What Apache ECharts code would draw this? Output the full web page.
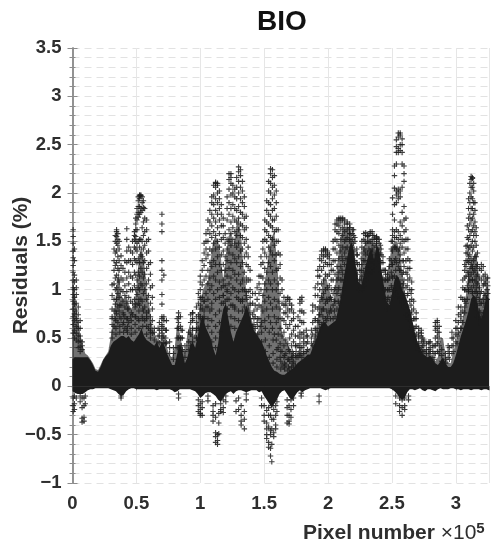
<!DOCTYPE html>
<html><head><meta charset="utf-8">
<style>html,body{margin:0;padding:0;background:#fff}#c{width:503px;height:550px}</style>
<script src="https://cdn.jsdelivr.net/npm/echarts@6/dist/echarts.min.js"></script>
</head><body><div id="c"></div>
<script>
const bandX=[0,.02,.04,.06,.08,.1,.12,.14,.16,.18,.2,.22,.24,.26,.28,.3,.32,.34,.36,.38,.4,.42,.44,.46,.48,.5,.52,.54,.56,.58,.6,.62,.64,.66,.68,.7,.72,.74,.76,.78,.8,.82,.84,.86,.88,.9,.92,.94,.96,.98,1,1.02,1.04,1.06,1.08,1.1,1.12,1.14,1.16,1.18,1.2,1.22,1.24,1.26,1.28,1.3,1.32,1.34,1.36,1.38,1.4,1.42,1.44,1.46,1.48,1.5,1.52,1.54,1.56,1.58,1.6,1.62,1.64,1.66,1.68,1.7,1.72,1.74,1.76,1.78,1.8,1.82,1.84,1.86,1.88,1.9,1.92,1.94,1.96,1.98,2,2.02,2.04,2.06,2.08,2.1,2.12,2.14,2.16,2.18,2.2,2.22,2.24,2.26,2.28,2.3,2.32,2.34,2.36,2.38,2.4,2.42,2.44,2.46,2.48,2.5,2.52,2.54,2.56,2.58,2.6,2.62,2.64,2.66,2.68,2.7,2.72,2.74,2.76,2.78,2.8,2.82,2.84,2.86,2.88,2.9,2.92,2.94,2.96,2.98,3,3.02,3.04,3.06,3.08,3.1,3.12,3.14,3.16,3.18,3.2,3.22,3.24,3.26];
const solidTop=[.28,.30,.30,.30,.30,.30,.30,.27,.22,.16,.15,.20,.27,.31,.34,.42,.46,.48,.50,.52,.52,.50,.52,.48,.46,.50,.54,.60,.52,.48,.46,.44,.42,.46,.40,.46,.42,.34,.28,.22,.22,.34,.44,.36,.24,.30,.42,.46,.40,.52,.66,.74,.62,.56,.50,.40,.32,.44,.66,.80,.86,.70,.56,.46,.56,.62,.68,.74,.84,.76,.66,.58,.54,.50,.46,.40,.32,.26,.20,.16,.15,.13,.12,.12,.14,.16,.18,.20,.24,.26,.28,.30,.33,.33,.40,.46,.54,.62,.66,.66,.62,.64,.66,.68,.80,.92,1.1,1.25,1.40,1.5,1.42,1.22,1.08,1.05,1.15,1.28,1.38,1.42,1.32,1.45,1.42,1.18,1.02,.88,.84,.95,1.1,1.15,1.1,1.0,.95,.88,.8,.68,.56,.46,.4,.34,.32,.3,.32,.28,.24,.22,.26,.3,.24,.2,.2,.24,.32,.42,.52,.6,.68,.78,.9,.95,.9,.78,.7,.8,.95,.9];
const hazeTop=[1.10,.95,.70,.55,.42,.34,.32,.28,.24,.18,.17,.22,.28,.32,.36,.52,.70,.95,1.20,.95,.90,.95,.85,.80,.85,1.0,1.35,1.45,1.30,1.0,.85,.65,.55,.50,.42,.55,.52,.40,.32,.30,.40,.66,.55,.40,.35,.55,.65,.50,.55,.70,.85,1.0,1.05,1.1,1.3,1.5,1.55,1.5,1.35,1.1,1.35,1.55,1.6,1.45,1.65,1.75,1.55,1.2,1.0,.85,.70,.62,.55,.6,.85,1.05,1.2,1.45,1.55,1.6,1.3,.95,.55,.5,.45,.4,.35,.3,.35,.4,.35,.35,.38,.4,.45,.55,.7,.9,1.1,1.15,1.05,.95,.85,1.1,1.35,1.55,1.65,1.65,1.65,1.6,1.45,1.2,1.05,1.3,1.45,1.5,1.5,1.5,1.45,1.5,1.4,1.15,1.1,1.15,1.3,1.45,1.5,1.5,1.4,1.2,1.0,.85,.72,.6,.52,.45,.42,.38,.38,.35,.36,.3,.26,.3,.5,.5,.32,.25,.24,.35,.45,.55,.6,.75,.95,1.15,1.3,1.35,1.4,1.15,.9,.95,1.05,1.0];
const bandLow=[-.05,-.07,-.08,-.08,-.08,-.06,-.04,-.03,-.03,-.02,-.02,-.02,-.02,-.02,-.02,-.03,-.04,-.05,-.08,-.10,-.09,-.05,-.03,-.02,-.02,-.03,-.03,-.03,-.03,-.03,-.03,-.03,-.03,-.04,-.03,-.03,-.03,-.03,-.03,-.04,-.06,-.05,-.03,-.03,-.03,-.03,-.03,-.04,-.05,-.08,-.12,-.10,-.07,-.06,-.06,-.08,-.10,-.14,-.16,-.12,-.08,-.06,-.05,-.08,-.05,-.04,-.04,-.05,-.06,-.05,-.04,-.04,-.04,-.06,-.05,-.1,-.14,-.18,-.22,-.18,-.14,-.08,-.05,-.04,-.08,-.12,-.14,-.10,-.06,-.04,-.06,-.04,-.03,-.02,-.02,-.02,-.02,-.02,-.03,-.04,-.03,-.02,-.02,-.02,-.02,-.02,-.02,-.02,-.02,-.02,-.02,-.02,-.02,-.02,-.02,-.02,-.02,-.02,-.02,-.02,-.02,-.02,-.02,-.02,-.02,-.03,-.05,-.08,-.12,-.14,-.12,-.06,-.03,-.03,-.04,-.03,-.02,-.04,-.05,-.03,-.03,-.04,-.05,-.03,-.02,-.03,-.03,-.03,-.02,-.02,-.03,-.03,-.04,-.03,-.03,-.03,-.04,-.03,-.03,-.03,-.04,-.03,-.03,-.04];
const fringe=[[.31,.5,.56,.64,.7],[.34,.54,.6,.68,.78],[.37,.56,.62,.72,.84],[.4,.56,.66,.74],[.43,.56,.62,.7,.8],[.46,.54,.6,.68,.76],[.49,.56,.64,.72,.82],[.52,.6,.68,.78,.9],[.55,.62,.7,.8],[.58,.54,.62,.7,.76],[.61,.5,.56,.64],[.64,.48,.56,.6],[.67,.46,.52,.6],[.7,.5,.58,.64,.72],[.73,.44,.5,.58],[.76,.34,.4,.46],[.79,.28,.34,.4],[.82,.4,.5,.6,.7],[.85,.42,.5,.58],[.88,.3,.36,.42],[.91,.38,.46,.56],[.94,.52,.6,.68,.76],[.97,.5,.58,.66],[1,.72,.8,.9,1.0],[1.03,.7,.78,.88],[1.06,.62,.7,.82],[1.09,.46,.56,.68,.8],[1.12,.4,.5,.62,.74],[1.15,.56,.66,.78],[1.18,.86,.94,1.04],[1.21,.8,.9,1.0],[1.24,.62,.72,.84],[1.27,.6,.7,.82],[1.3,.68,.78,.9],[1.33,.78,.88,1.0],[1.36,.9,.98,1.08],[1.39,.76,.84,.92],[1.42,.64,.7,.78],[1.45,.54,.62,.7],[1.48,.46,.56,.66],[1.51,.36,.48,.6],[1.54,.3,.42,.56],[1.57,.24,.34,.48],[1.6,.2,.28,.38],[1.63,.18,.26,.36],[1.66,.18,.24,.32],[1.69,.2,.28,.38],[1.72,.24,.3,.36],[1.75,.3,.36,.42],[1.78,.34,.4,.5],[1.81,.36,.42,.5],[1.84,.38,.46,.52],[1.87,.44,.5,.58],[1.9,.52,.6,.68],[1.93,.66,.74,.82],[1.96,.72,.8,.9],[1.99,.68,.78,.9],[2.02,.7,.8,.92],[2.05,.78,.88,1.0],[2.08,.88,1.0,1.12],[2.11,1.1,1.2,1.34],[2.14,1.32,1.42,1.52],[2.17,1.52,1.58,1.64],[2.2,1.48,1.56,1.62],[2.23,1.16,1.26,1.36],[2.26,1.1,1.2,1.32],[2.29,1.3,1.4,1.5],[2.32,1.42,1.5,1.56],[2.35,1.4,1.48,1.56],[2.38,1.48,1.52,1.55],[2.41,1.3,1.38,1.46],[2.44,1.0,1.1,1.2],[2.47,.92,1.0,1.1],[2.5,1.02,1.14,1.26],[2.53,1.2,1.32,1.44],[2.56,1.2,1.3,1.42],[2.59,1.06,1.18,1.3],[2.62,.94,1.04,1.16],[2.65,.74,.84,.96],[2.68,.52,.6,.7],[2.71,.38,.44,.52],[2.74,.36,.42,.5],[2.77,.34,.38,.44],[2.8,.36,.4,.46],[2.83,.28,.34,.42],[2.86,.36,.46,.56],[2.89,.26,.32,.38],[2.92,.24,.28,.34],[2.95,.28,.34,.4],[2.98,.36,.42,.5],[3.01,.44,.52,.6],[3.04,.6,.68,.76],[3.07,.82,.9,1.0],[3.1,.98,1.08,1.18],[3.13,.98,1.1,1.22],[3.16,.88,.98,1.08],[3.19,.76,.86,.96],[3.22,.86,.96,1.06],[3.25,.96,1.04,1.12]];
const peakEdge=[[.005,1.62,1.55,1.48,1.4,1.33,1.25,1.18,1.1,1.02,.95,.88,.8,.72,.64,.55,-.12,-.2,-.26],[.015,1.42,1.3,1.15,1.08,1.0,.92,.85,.75,.68,.58,.5,-.1,-.18,-.24],[.03,1.1,1.02,.95,.86,.78,.7,.62,.55,.48,-.12],[.045,.82,.74,.66,.6,.52,.46,.4],[.06,.68,.6,.52,.47,.41,.36,-.1,-.16],[.075,.46,.42,.38,-.12,-.22,-.33,-.37],[.09,-.12,-.2,-.32,-.36],[.1,-.1,-.18]];
const peakB=[[.31,.72,.8,.94,1.05],[.325,.62,.78,.9,1.06,1.2,1.3,1.42],[.335,.7,.85,1.0,1.12,1.25,1.38,1.5,1.56],[.345,.75,.9,1.02,1.15,1.28,1.4,1.48,1.55,1.62,1.6],[.355,.66,.82,.96,1.1,1.22,1.34,1.46,1.52,1.58],[.365,.78,.92,1.08,1.2,1.3,1.42,1.5],[.38,.7,.84,1.0,1.12,1.25,1.35],[.395,.64,.76,.88,.98,1.1,1.22],[.41,.6,.72,.82,.94,1.04,1.18,1.3],[.425,.58,.7,.86,.98,1.12,1.28,1.4,1.52,1.63],[.44,.66,.8,.92,1.06,1.18,1.3,1.44],[.455,.72,.88,1.0,1.14,1.3,1.4]];
const peakD=[[.47,.74,.86,1.0,1.12,1.26,1.38,1.5],[.485,.9,1.04,1.18,1.32,1.44,1.52,1.56,1.6],[.495,.72,.85,1.0,1.15,1.3,1.42,1.55,1.5,1.62,1.68,1.74],[.505,.95,1.1,1.28,1.4,1.48,1.62,1.72,1.78,1.84],[.515,.7,.86,1.02,1.18,1.32,1.5,1.75,1.8,1.86,1.92,1.96],[.525,.84,1.0,1.14,1.28,1.44,1.52,1.78,1.86,1.94,1.97,1.98],[.535,.9,1.06,1.22,1.36,1.52,1.8,1.84,1.98,1.97],[.545,.72,.88,1.04,1.18,1.34,1.5,1.64,1.82,1.9,1.96],[.555,.78,.96,1.12,1.28,1.42,1.56,1.7,1.85,1.92],[.565,.68,.82,1.0,1.16,1.3,1.46,1.6,1.74,1.84],[.58,.72,.9,1.06,1.22,1.38,1.5,1.62,1.72],[.595,.6,.78,.94,1.1,1.26,1.4,1.52],[.61,.58,.72,.86,1.02,1.16,1.28],[.625,.55,.68,.8,.92,1.04],[.7,.55,.62,.7,.85,.95,1.1,1.2,1.3,1.6,1.68,1.78],[.715,.45,.52,.6,.68,.72,1.15],[.735,.45,.58,.68],[.68,.45,.52,.58,.66],[.83,.4,.5,.6,.66,.72,.76],[.845,.36,.5,.62,.72],[.925,.42,.54,.66,.74],[.94,.46,.58,.7,.76],[.86,.38,.5,.58]];
const peakE=[[.97,.5,.6,.72,.82],[.985,.6,.74,.86,.96],[1.0,.7,.84,.92,1.08,1.14],[1.015,.8,.92,1.05,1.2,1.3],[1.03,.72,.88,1.1,1.25,1.38,1.48],[1.045,.82,.96,1.14,1.32,1.42,1.5,1.58],[1.06,.9,1.06,1.2,1.36,1.5,1.62,1.72],[1.075,.78,1.0,1.12,1.28,1.42,1.58,1.7,1.82],[1.09,.86,1.04,1.24,1.4,1.54,1.66,1.78,1.9,1.96],[1.105,.96,1.14,1.3,1.48,1.6,1.74,1.88,1.98,2.08],[1.12,.9,1.1,1.26,1.42,1.56,1.7,1.82,1.94,2.06,2.11,2.1],[1.135,1.0,1.18,1.34,1.5,1.64,1.78,1.9,2.0,2.08,2.1],[1.15,.92,1.08,1.26,1.44,1.58,1.72,1.84,1.94,2.02],[1.165,.86,1.02,1.2,1.36,1.52,1.66,1.78,1.88],[1.18,.94,1.1,1.26,1.4,1.54,1.66,1.74],[1.195,.88,1.04,1.2,1.34,1.48,1.58],[1.21,.8,.98,1.14,1.3,1.42,1.52,1.72,1.84,1.96],[1.225,.9,1.06,1.22,1.38,1.5,1.62,1.78,1.9,2.04,2.14,2.2],[1.24,.96,1.12,1.28,1.46,1.58,1.7,1.84,1.98,2.1,2.16,2.2],[1.255,.84,1.02,1.2,1.36,1.52,1.64,1.76,1.88,2.0,2.08],[1.27,.8,1.0,1.16,1.32,1.48,1.6,1.72,1.84,1.96,2.04],[1.285,.92,1.1,1.28,1.44,1.56,1.7,1.82,1.94,2.06,2.16],[1.3,.98,1.16,1.34,1.48,1.62,1.74,1.86,2.0,2.12,2.22,2.27],[1.315,.88,1.06,1.24,1.4,1.56,1.68,1.8,1.94,2.06,2.18,2.24],[1.33,.9,1.1,1.28,1.42,1.54,1.66,1.78,1.9,2.02,2.12],[1.345,.82,1.0,1.18,1.34,1.48,1.62,1.74,1.86,1.96],[1.36,.94,1.12,1.26,1.38,1.52,1.64,1.76],[1.375,.8,.98,1.1,1.24,1.34,1.44],[1.39,.7,.86,1.0,1.1,1.2],[1.41,.62,.74,.86,.96]];
const peakG=[[1.43,.6,.72,.84,.96],[1.445,.66,.8,.9,1.02],[1.46,.7,.84,.96,1.06,1.14],[1.475,.62,.82,1.0,1.14,1.26,1.34],[1.49,.78,.94,1.12,1.28,1.42,1.5],[1.505,.68,.88,1.06,1.22,1.38,1.52,1.62,1.72],[1.52,.8,1.0,1.18,1.34,1.5,1.6,1.7,1.82,1.92],[1.535,.72,.92,1.1,1.28,1.44,1.56,1.68,1.78,1.9,2.02,2.12],[1.55,.66,.86,1.06,1.24,1.4,1.54,1.66,1.76,1.88,2.0,2.1,2.2,2.25],[1.565,.6,.8,1.0,1.18,1.36,1.52,1.64,1.72,1.82,1.94,2.06,2.16,2.24],[1.58,.54,.72,.9,1.1,1.3,1.46,1.6,1.72,1.84,1.98,2.08,2.18],[1.595,.48,.66,.82,1.0,1.2,1.36,1.5,1.62,1.76,1.9,2.02],[1.61,.4,.54,.7,.88,1.06,1.22,1.38,1.5,1.62],[1.625,.3,.44,.6,.8,.96,1.12,1.26,1.36],[1.64,.22,.36,.52,.7,.86,1.0,1.1],[1.655,.2,.3,.42,.56,.68,.76,.84,.92],[1.67,.22,.34,.48,.64,.76,.84,.88],[1.685,.16,.28,.44,.6,.72,.8,.9,.92],[1.7,.18,.26,.36,.5,.64,.78,.86,.9],[1.715,.2,.3,.42,.54,.68,.8,.84],[1.73,.2,.26,.34,.46,.58,.7,.76],[1.745,.22,.32,.42,.52,.62],[1.765,.3,.42,.52,.62,.72],[1.78,.32,.44,.56,.68,.78,.86,.9],[1.795,.3,.4,.54,.66,.78,.88,.92],[1.81,.34,.46,.56,.66,.76],[1.83,.36,.44,.52,.58]];
const peakI=[[1.88,.42,.54,.66,.78,.84],[1.9,.46,.58,.7,.82,.94,1.02],[1.92,.56,.68,.8,.94,1.06,1.14,1.2],[1.935,.6,.74,.88,1.0,1.14,1.24,1.32],[1.95,.64,.78,.92,1.06,1.2,1.3,1.36,1.4],[1.965,.66,.8,.96,1.1,1.24,1.34,1.4,1.42],[1.98,.7,.86,1.0,1.16,1.28,1.36,1.42,1.41],[1.995,.72,.88,1.02,1.14,1.26,1.34,1.38,1.4],[2.01,.76,.9,1.04,1.16,1.26,1.32,1.36],[2.025,.78,.9,1.0,1.1,1.2,1.26],[2.04,.7,.84,.96,1.1,1.2,1.3,1.42,1.5],[2.055,.72,.88,1.02,1.16,1.3,1.42,1.52,1.62,1.68],[2.07,.8,.96,1.1,1.24,1.38,1.5,1.6,1.68,1.72],[2.085,.86,1.02,1.18,1.32,1.46,1.58,1.66,1.72,1.74],[2.1,.94,1.1,1.24,1.4,1.52,1.62,1.7,1.74],[2.115,1.0,1.16,1.3,1.44,1.56,1.64,1.72,1.74],[2.13,1.1,1.26,1.38,1.5,1.6,1.68,1.72],[2.15,1.2,1.32,1.44,1.54,1.62,1.68,1.7],[2.17,1.3,1.4,1.5,1.58,1.64,1.68],[2.19,1.34,1.44,1.52,1.58,1.62],[2.21,1.2,1.3,1.4,1.5,1.54],[2.225,1.1,1.2,1.28,1.36,1.42],[2.245,1.0,1.1,1.2,1.26],[2.265,1.0,1.14,1.26,1.38,1.44,1.5],[2.28,1.04,1.18,1.3,1.42,1.52,1.58],[2.295,1.1,1.22,1.36,1.48,1.56,1.59],[2.31,1.16,1.26,1.38,1.5,1.56,1.55],[2.33,1.2,1.3,1.4,1.5,1.58,1.6],[2.345,1.18,1.3,1.42,1.52,1.6],[2.36,1.24,1.36,1.46,1.52,1.56],[2.38,1.38,1.44,1.5,1.53,1.54],[2.4,1.36,1.42,1.48,1.52],[2.415,1.18,1.28,1.36,1.42],[2.43,1.02,1.12,1.2,1.28,1.34],[2.45,.9,1.0,1.1,1.16,1.2]];
const peakL=[[2.465,.8,.9,1.0,1.1,1.16],[2.48,.88,1.0,1.12,1.24,1.32],[2.495,.92,1.04,1.18,1.3,1.42,1.5],[2.505,.98,1.12,1.26,1.4,1.5,1.56,1.62,1.78,1.95],[2.52,1.0,1.14,1.3,1.44,1.54,1.6,1.72,1.88,2.05,2.18,2.28],[2.535,.96,1.12,1.28,1.42,1.54,1.62,1.9,1.98,2.02,2.3,2.42,2.48,2.55],[2.55,.94,1.1,1.24,1.4,1.52,1.6,1.94,2.0,2.04,2.42,2.46,2.58,2.62],[2.565,.9,1.06,1.2,1.36,1.48,1.56,1.7,1.96,2.02,2.44,2.5,2.6,2.62],[2.58,.86,1.02,1.16,1.3,1.44,1.52,1.66,1.8,2.06,2.3,2.42,2.5,2.56],[2.595,.82,.96,1.1,1.24,1.38,1.5,1.6,1.72,1.86,2.12,2.2,2.28],[2.61,.74,.88,1.02,1.18,1.3,1.42,1.52,1.62,1.74],[2.625,.7,.82,.96,1.1,1.22,1.32,1.42,1.52],[2.64,.64,.76,.88,1.0,1.12,1.22,1.3],[2.655,.58,.68,.78,.9,1.0,1.08],[2.67,.5,.6,.7,.8,.88],[2.69,.46,.54,.62,.7,.76],[2.71,.42,.5,.56,.6],[2.73,.4,.46,.52,.55,.58],[2.75,.36,.42,.46,.48],[2.79,.34,.38,.44,.46],[2.82,.3,.36,.42],[2.84,.34,.42,.5,.58,.62,.66],[2.855,.36,.44,.52,.6,.66,.68],[2.87,.34,.42,.5,.56,.62],[2.94,.3,.36,.42],[2.97,.34,.42,.5,.56]];
const peakN=[[3.0,.46,.54,.6,.68],[3.02,.56,.66,.74,.82],[3.04,.6,.72,.82,.92],[3.055,.66,.78,.9,1.02,1.1],[3.07,.76,.88,1.0,1.12,1.2,1.26],[3.08,.86,1.0,1.14,1.24,1.3,1.38,1.45],[3.09,.9,1.04,1.18,1.3,1.38,1.46,1.54,1.66],[3.1,1.0,1.14,1.28,1.34,1.42,1.52,1.62,1.74,1.84,1.94],[3.11,1.1,1.22,1.3,1.36,1.44,1.56,1.68,1.78,1.9,2.0,2.1],[3.12,1.02,1.16,1.26,1.32,1.46,1.6,1.72,1.84,1.96,2.06,2.14,2.17],[3.13,.96,1.1,1.24,1.4,1.5,1.62,1.74,1.84,1.94,2.06,2.15,2.16],[3.14,.9,1.04,1.18,1.3,1.44,1.56,1.66,1.78,1.9,2.02,2.1],[3.15,.84,.98,1.1,1.2,1.34,1.5,1.6,1.7,1.82,1.9],[3.16,.8,.92,1.02,1.14,1.24,1.34,1.46,1.56,1.64],[3.17,.72,.84,.96,1.06,1.16,1.26,1.38],[3.185,.66,.78,.9,1.02,1.12,1.22],[3.2,.72,.86,.98,1.1,1.2,1.26],[3.215,.76,.9,1.04,1.14,1.24],[3.23,.82,.94,1.06,1.16,1.1],[3.245,.9,1.0,1.08,1.12]];
const peakNeg=[[.38,-.1,-.12],[.83,-.08,-.12],[1.0,-.18,-.24,-.3,-.28],[.985,-.14,-.2,-.26],[1.015,-.16,-.22,-.3],[1.06,-.1,-.15],[1.1,-.2,-.26,-.3,-.36],[1.12,-.18,-.32,-.48,-.52,-.58],[1.135,-.5,-.56,-.6],[1.145,-.28,-.38,-.49],[1.16,-.18,-.24,-.26],[1.18,-.14,-.22,-.27],[1.2,-.1,-.16],[1.28,-.15,-.26],[1.3,-.12,-.24],[1.32,-.2,-.3,-.36,-.4],[1.345,-.26,-.34,-.44],[1.36,-.08,-.14],[1.48,-.12,-.2],[1.5,-.2,-.3,-.36],[1.52,-.25,-.38,-.44,-.5,-.54],[1.535,-.22,-.3,-.42,-.58,-.63],[1.55,-.3,-.46,-.5,-.64,-.72],[1.56,-.2,-.34,-.44,-.6,-.78],[1.575,-.24,-.34,-.48,-.52],[1.59,-.2,-.3,-.4,-.44],[1.6,-.16,-.26],[1.68,-.14,-.22,-.3,-.38],[1.695,-.2,-.3,-.36,-.39],[1.71,-.14,-.24,-.32],[1.73,-.12,-.2],[1.79,-.07,-.1],[1.93,-.1,-.16],[2.53,-.1,-.18],[2.56,-.12,-.2,-.26],[2.58,-.14,-.22,-.3],[2.6,-.12,-.2,-.24],[2.63,-.1,-.14]];

const peakGroups=[fringe,peakEdge,peakB,peakD,peakE,peakG,peakI,peakL,peakN,peakNeg];
const points=[];
peakGroups.forEach(g=>g.forEach(col=>{for(let i=1;i<col.length;i++)points.push([col[0],col[i]]);}));
const zip=a=>bandX.map((x,i)=>[x,a[i]]);
const dark='#1c1c1c';
const plus='path://M4 0h2v4h4v2H6v4H4V6H0V4h4z';
const area=(name,arr,op,z)=>({name,type:'line',data:zip(arr),symbol:'none',z,silent:true,lineStyle:{width:0},areaStyle:{origin:0,color:dark,opacity:op}});
const yLab=v=>String(v).replace('-','\u2212');
const gridGrey='#e2e2e2',axisGrey='#8c8c8c',ink='#2e2e2e',face='Liberation Sans';
const chart=echarts.init(document.getElementById('c'),null,{renderer:'canvas'});
chart.setOption({
 animation:false,backgroundColor:'#fff',
 title:[{text:'BIO',left:277,top:3,textAlign:'center',textStyle:{fontFamily:face,fontWeight:'bold',fontSize:28,color:'#111'}},
  {text:'{a|Pixel number }{b|\u00d710}{c|5}',left:298,top:516,textStyle:{rich:{
   a:{fontFamily:face,fontWeight:'bold',fontSize:21,color:ink},
   b:{fontFamily:face,fontWeight:'normal',fontSize:21,color:ink},
   c:{fontFamily:face,fontWeight:'bold',fontSize:15,color:ink,verticalAlign:'top',padding:[0,0,10,0]}}}}],
 grid:{left:72.5,right:14,top:48,bottom:67,outerBoundsMode:'none'},
 xAxis:[{type:'value',min:0,max:3.26,interval:.5,position:'bottom',
  axisLine:{lineStyle:{color:axisGrey,width:1.5}},
  axisTick:{inside:true,length:4,lineStyle:{color:axisGrey}},
  axisLabel:{margin:11,showMaxLabel:false,fontFamily:face,fontWeight:'bold',fontSize:18.5,color:ink},
  splitLine:{show:true,lineStyle:{color:'#e6e6e6',width:1}}},
  {type:'value',min:0,max:3.26,interval:.5,position:'top',
  axisLine:{lineStyle:{color:axisGrey,width:1.5}},axisTick:{inside:true,length:4,lineStyle:{color:axisGrey}},axisLabel:{show:false},splitLine:{show:false}}],
 yAxis:[{type:'value',min:-1,max:3.5,interval:.5,position:'left',
  axisLine:{show:true,lineStyle:{color:axisGrey,width:1.5}},
  axisTick:{show:true,inside:true,length:5,lineStyle:{color:axisGrey}},
  minorTick:{show:true,splitNumber:5,length:3,lineStyle:{color:axisGrey}},
  axisLabel:{margin:11,formatter:yLab,fontFamily:face,fontWeight:'bold',fontSize:18.5,color:ink},
  splitLine:{show:true,lineStyle:{color:gridGrey,type:[7,5],width:1}},
  minorSplitLine:{show:true,lineStyle:{color:gridGrey,type:[7,5],width:1}},
  name:'Residuals (%)',nameLocation:'middle',nameGap:41,nameMoveOverlap:false,nameTextStyle:{fontFamily:face,fontWeight:'bold',fontSize:21,color:ink}},
  {type:'value',min:-1,max:3.5,interval:.5,position:'right',
  axisLine:{show:true,lineStyle:{color:axisGrey,width:1.5}},
  axisTick:{show:true,inside:true,length:5,lineStyle:{color:axisGrey}},
  minorTick:{show:true,splitNumber:5,length:3,lineStyle:{color:axisGrey}},
  axisLabel:{show:false},splitLine:{show:false}}],
 series:[
  area('haze',hazeTop,.62,2),
  area('solid',solidTop,1,3),
  area('solidLow',bandLow,1,3),
  {name:'residuals',type:'scatter',data:points,symbol:plus,symbolSize:5.5,z:4,silent:true,itemStyle:{color:dark,opacity:.85}}
 ]
});
</script></body></html>
